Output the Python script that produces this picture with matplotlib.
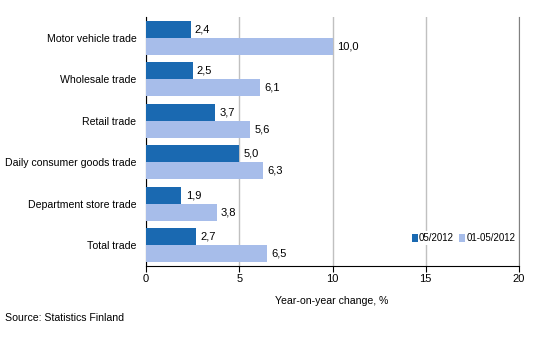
import matplotlib
matplotlib.use("Agg")
import matplotlib.pyplot as plt
import numpy as np

plt.rcParams['font.family'] = ['Liberation Sans', 'DejaVu Sans']

categories = ["Motor vehicle trade", "Wholesale trade", "Retail trade",
              "Daily consumer goods trade", "Department store trade", "Total trade"]
series_05 = [2.4, 2.5, 3.7, 5.0, 1.9, 2.7]
series_0105 = [10.0, 6.1, 5.6, 6.3, 3.8, 6.5]
series_names = ["05/2012", "01-05/2012"]
xticks = [0, 5, 10, 15, 20]

c_dark = "#1a69b1"
c_light = "#a7bdea"

fig = plt.figure(figsize=(5.34, 3.6), dpi=100)
ax = fig.add_axes([146/534, 1-266/360, (519-146)/534, (266-17)/360])

y = np.arange(len(categories))
h = 0.41
b1 = ax.barh(y - h/2, series_05, height=h, color=c_dark, label=series_names[0], zorder=3)
b2 = ax.barh(y + h/2, series_0105, height=h, color=c_light, label=series_names[1], zorder=3)

def fmt(v):
    return f"{v:.1f}".replace(".", ",")

for bars, vals in ((b1, series_05), (b2, series_0105)):
    for r, v in zip(bars, vals):
        ax.annotate(fmt(v), (r.get_width(), r.get_y() + r.get_height()/2),
                    xytext=(3, 0), textcoords="offset points",
                    va="center", ha="left", fontsize=8)

ax.set_ylim(len(categories) - 0.5, -0.5)
ax.set_xlim(0, 20)
ax.set_yticks(y)
ax.set_yticklabels(categories, fontsize=7.6)
ax.set_xticks(xticks)
ax.set_xticklabels([str(t) for t in xticks], fontsize=8)
ax.tick_params(axis='y', length=0, pad=7)
ax.tick_params(axis='x', length=4, direction='out', color='black', pad=2)
ax.xaxis.grid(True, color='#c0c0c0', linewidth=1, zorder=0)
ax.set_axisbelow(True)
ax.spines['top'].set_visible(False)
ax.spines['right'].set_color('#808080')
ax.spines['left'].set_color('black')
ax.spines['bottom'].set_color('black')

ax.set_xlabel("Year-on-year change, %", fontsize=7.6)
ax.xaxis.set_label_coords((332-146)/(519-146), -0.12)

leg = ax.legend(loc='lower right', bbox_to_anchor=(0.995, 0.085), fontsize=7, ncol=2,
                frameon=True, facecolor='white', edgecolor='none', framealpha=1,
                handlelength=0.6, handleheight=0.9, handletextpad=0.1,
                columnspacing=0.6, borderpad=0.2, borderaxespad=0)

fig.text(5/534, 1-318/360, "Source: Statistics Finland", fontsize=7.6, va='center', ha='left')

fig.savefig("out.png", dpi=100)
